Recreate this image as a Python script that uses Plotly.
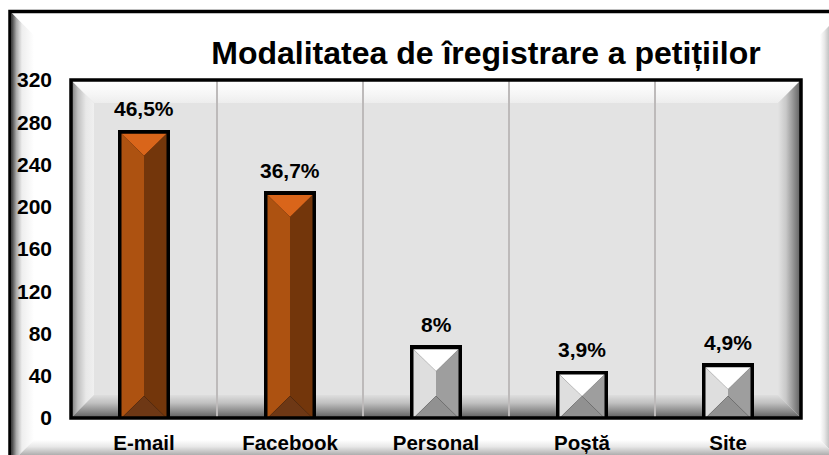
import base64
import plotly.graph_objects as go

categories = ["E-mail", "Facebook", "Personal", "Poștă", "Site"]
values = [271, 213, 67, 43, 50]
labels = ["46,5%", "36,7%", "8%", "3,9%", "4,9%"]
y_ticks = [0, 40, 80, 120, 160, 200, 240, 280, 320]
title = "Modalitatea de îregistrare a petițiilor"

ORANGE = dict(left="#AD5211", right="#73360B", top="#D9651A", bottom="#6E3815")
GRAY = dict(left="#DEDEDE", right="#9E9E9E", top="#FFFFFF", bottom="#919191")
face_colors = [ORANGE, ORANGE, GRAY, GRAY, GRAY]

W, H = 829, 455
L, R, T, B = 71, 801, 80, 418
FONT = "Liberation Sans, Arial, sans-serif"
px_x = 5 / (R - L)
px_y = 320 / (B - T)


def grad(i, x1, y1, x2, y2, stops):
    s = "".join(f'<stop offset="{o}" stop-color="{c}"/>' for o, c in stops)
    return (f'<linearGradient id="{i}" gradientUnits="userSpaceOnUse" x1="{x1}" y1="{y1}" '
            f'x2="{x2}" y2="{y2}">{s}</linearGradient>')


def poly(pts, fill):
    return f'<polygon points="{" ".join(f"{a},{b}" for a, b in pts)}" fill="{fill}"/>'


def bevel(prefix, x0, y0, x1, y1, b, center, lstops, tstops, rstops, bstops):
    d = (grad(prefix + "l", x0, 0, x0 + b, 0, lstops) + grad(prefix + "t", 0, y0, 0, y0 + b, tstops)
         + grad(prefix + "r", x1 - b, 0, x1, 0, rstops) + grad(prefix + "b", 0, y1 - b, 0, y1, bstops))
    p = (f'<rect x="{x0}" y="{y0}" width="{x1-x0}" height="{y1-y0}" fill="{center}"/>'
         + poly([(x0, y0), (x0 + b, y0 + b), (x0 + b, y1 - b), (x0, y1)], f"url(#{prefix}l)")
         + poly([(x0, y0), (x1, y0), (x1 - b, y0 + b), (x0 + b, y0 + b)], f"url(#{prefix}t)")
         + poly([(x1, y0), (x1, y1), (x1 - b, y1 - b), (x1 - b, y0 + b)], f"url(#{prefix}r)")
         + poly([(x0, y1), (x1, y1), (x1 - b, y1 - b), (x0 + b, y1 - b)], f"url(#{prefix}b)"))
    return d, p


d1, p1 = bevel("o", 12, 13, 842, 462, 22, "#FFFFFF",
               [(0, "#444444"), (0.2, "#AAAAAA"), (0.45, "#EEEEEE"), (1, "#FFFFFF")],
               [(0, "#FFFFFF"), (1, "#FFFFFF")],
               [(0, "#FFFFFF"), (0.2, "#E8E8E8"), (0.45, "#BBBBBB"), (1, "#666666")],
               [(0, "#FFFFFF"), (0.3, "#E8E8E8"), (0.7, "#ABABAB"), (1, "#777777")])
d2, p2 = bevel("p", L, T, R, B, 23, "#E3E3E3",
               [(0, "#777777"), (0.3, "#C0C0C0"), (0.65, "#E8E8E8"), (1, "#F0F0F0")],
               [(0, "#FFFFFF"), (0.6, "#F6F6F6"), (1, "#EDEDED")],
               [(0, "#E3E3E3"), (0.35, "#C8C8C8"), (0.7, "#8E8E8E"), (1, "#5C5C5C")],
               [(0, "#DEDEDE"), (0.35, "#C0C0C0"), (0.7, "#8C8C8C"), (1, "#5C5C5C")])
svg = (f'<svg xmlns="http://www.w3.org/2000/svg" width="{W}" height="{H}" viewBox="0 0 {W} {H}">'
       f'<defs>{d1}{d2}</defs><rect width="{W}" height="{H}" fill="#FFFFFF"/>{p1}{p2}'
       f'<path d="M10 455V11.5H829" fill="none" stroke="#000000" stroke-width="3.5"/></svg>')
bg = "data:image/svg+xml;base64," + base64.b64encode(svg.encode()).decode()

fig = go.Figure()
fig.add_trace(go.Bar(x=list(range(len(categories))), y=values, width=48 / (R - L) * 5,
                     marker=dict(color="#000000", line=dict(color="#000000", width=4)),
                     hoverinfo="skip", showlegend=False))

hw = 22.5 * px_x
for i, (v, col) in enumerate(zip(values, face_colors)):
    top = v - 2 * px_y
    height_px = top / px_y
    b = min(22, height_px / 2) * px_y
    faces = {
        "left": ([i - hw, i - hw, i, i, i - hw], [0, top, top - b, b, 0]),
        "right": ([i + hw, i + hw, i, i, i + hw], [0, top, top - b, b, 0]),
        "top": ([i - hw, i + hw, i, i - hw], [top, top, top - b, top]),
        "bottom": ([i - hw, i + hw, i, i - hw], [0, 0, b, 0]),
    }
    for name, (xs, ys) in faces.items():
        fig.add_trace(go.Scatter(x=xs, y=ys, mode="lines", fill="toself", fillcolor=col[name],
                                 line=dict(width=0), hoverinfo="skip", showlegend=False))

annotations = [dict(x=i, y=v, text=f"<b>{t}</b>", showarrow=False, yanchor="bottom", yshift=9.5,
                    font=dict(family=FONT, size=21, color="#000000"))
               for i, (v, t) in enumerate(zip(values, labels))]

fig.update_layout(
    width=W, height=H, autosize=False,
    margin=dict(l=L, r=W - R, t=T, b=H - B, pad=0, autoexpand=False),
    paper_bgcolor="#FFFFFF", plot_bgcolor="rgba(0,0,0,0)",
    showlegend=False, bargap=0,
    title=dict(text=f"<b>{title}</b>", x=486 / W, xref="container", xanchor="center",
               y=1 - 53 / H, yref="container", yanchor="middle", automargin=False,
               font=dict(family=FONT, size=32, color="#000000")),
    xaxis=dict(range=[-0.5, 4.5], tickmode="array", tickvals=list(range(len(categories))),
               ticktext=[f"<b>{c}</b>" for c in categories], showgrid=False, zeroline=False,
               ticks="", ticklabelstandoff=10, showline=False, automargin=False,
               tickfont=dict(family=FONT, size=20.5, color="#000000"),
               minor=dict(tickmode="array", tickvals=[0.5, 1.5, 2.5, 3.5], showgrid=True,
                          gridcolor="#BDBABA", gridwidth=1.5, ticks="")),
    yaxis=dict(range=[0, 320], tickmode="array", tickvals=y_ticks,
               ticktext=[f"<b>{t}</b>" for t in y_ticks], showgrid=False, zeroline=False,
               ticks="", ticklabelstandoff=18, showline=False, automargin=False,
               tickfont=dict(family=FONT, size=21, color="#000000")),
    images=[dict(source=bg, xref="paper", yref="paper", x=-L / (R - L), y=1 + T / (B - T),
                 sizex=W / (R - L), sizey=H / (B - T), sizing="stretch", xanchor="left",
                 yanchor="top", layer="below")],
    shapes=[dict(type="rect", xref="paper", yref="paper", x0=0, x1=1, y0=0, y1=1,
                 line=dict(color="#000000", width=3.5), layer="above")],
    annotations=annotations,
)
fig.write_html("out.html", config=dict(displayModeBar=False),
               post_script="document.body.style.margin='0';document.body.style.overflow='hidden';")
